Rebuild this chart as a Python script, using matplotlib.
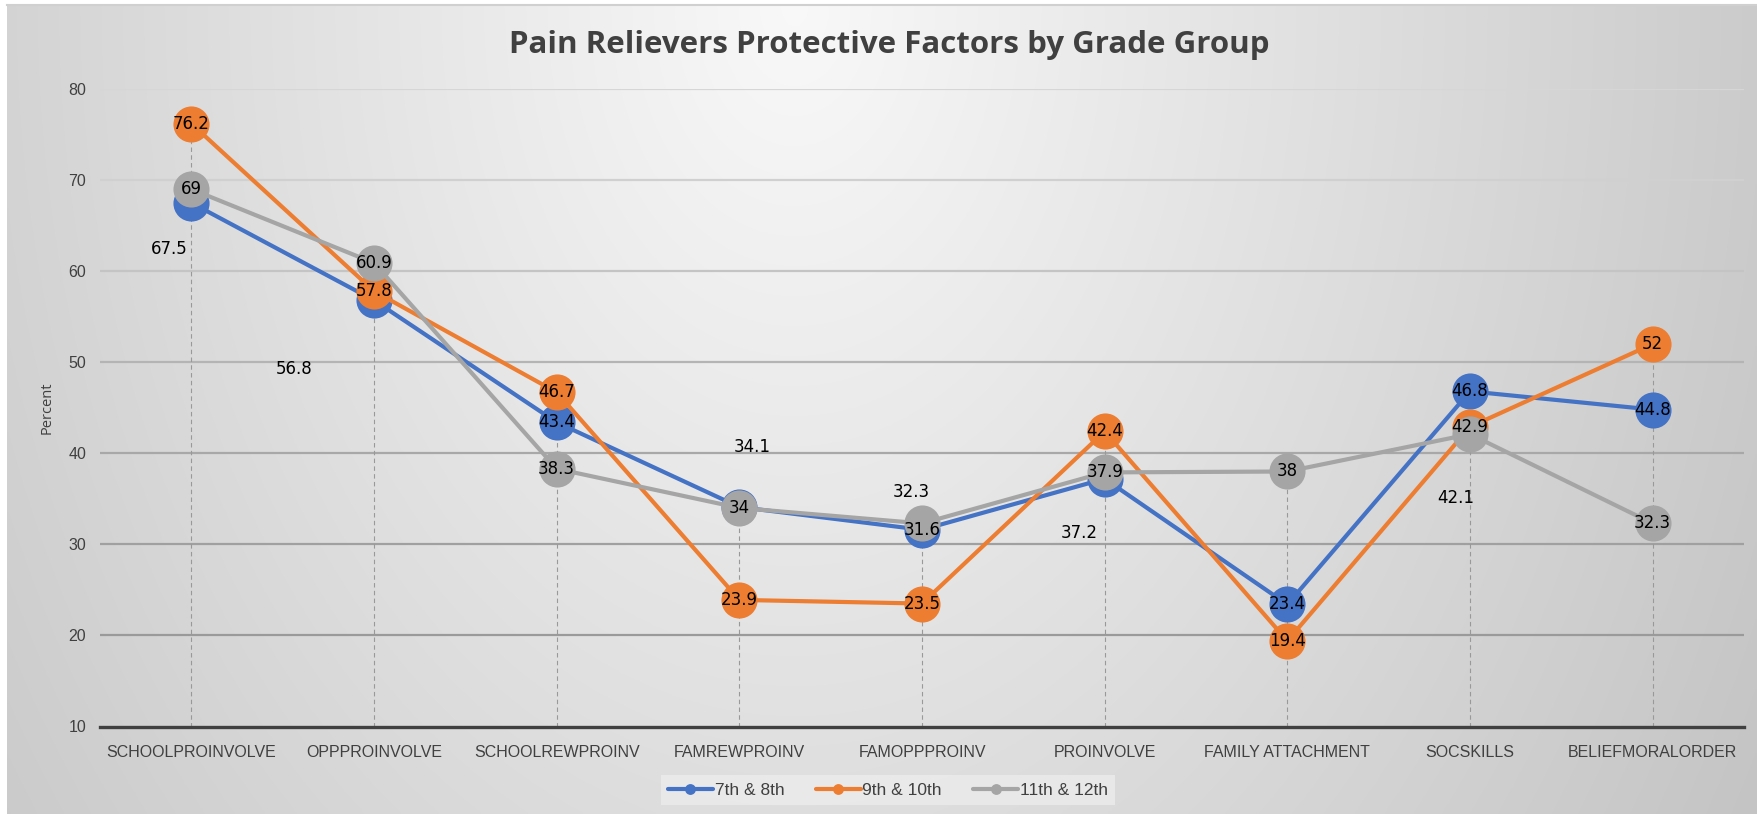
import numpy as np
import matplotlib
matplotlib.use('Agg')
import matplotlib.pyplot as plt
from matplotlib import font_manager

categories = ['SCHOOLPROINVOLVE', 'OPPPROINVOLVE', 'SCHOOLREWPROINV', 'FAMREWPROINV',
              'FAMOPPPROINV', 'PROINVOLVE', 'FAMILY ATTACHMENT', 'SOCSKILLS', 'BELIEFMORALORDER']
grade_7_8 = [67.5, 56.8, 43.4, 34.1, 31.6, 37.2, 23.4, 46.8, 44.8]
grade_9_10 = [76.2, 57.8, 46.7, 23.9, 23.5, 42.4, 19.4, 42.9, 52]
grade_11_12 = [69, 60.9, 38.3, 34, 32.3, 37.9, 38, 42.1, 32.3]
series_names = ['7th & 8th', '9th & 10th', '11th & 12th']
colors = ['#4472C4', '#ED7D31', '#A5A5A5']
y_ticks = [10, 20, 30, 40, 50, 60, 70, 80]

# labels that were dragged off their markers: (series, point) -> (x, y)
moved_labels = {(0, 0): (-0.12, 62.4), (0, 1): (0.56, 49.3), (0, 3): (3.07, 40.7),
                (2, 4): (3.94, 35.7), (0, 5): (4.86, 31.2), (2, 7): (6.92, 35.1)}

installed = {f.name for f in font_manager.fontManager.ttflist}
if 'Liberation Sans Narrow' in installed:
    axis_font, axis_size = 'Liberation Sans Narrow', 13
else:
    axis_font, axis_size = 'Liberation Sans', 11.5
title_font = 'Open Sans' if 'Open Sans' in installed else 'DejaVu Sans'

fig = plt.figure(figsize=(17.57, 8.14), dpi=100)
fig.patch.set_facecolor('white')

# soft grey gradient behind everything
bg = fig.add_axes([7 / 1757, 0, 1 - 7 / 1757, 1 - 6 / 814], zorder=-5)
gx, gy = np.meshgrid(np.linspace(0, 1, 600), np.linspace(0, 1, 300))
r = np.sqrt(((gx - 0.45) / 0.62) ** 2 + (gy / 1.9) ** 2)
shade = np.clip(0.975 - 0.2 * r, 0.76, 0.98)
bg.imshow(np.dstack([shade] * 3), aspect='auto', extent=[0, 1, 1, 0], interpolation='bilinear')
bg.set_axis_off()
fig.add_artist(plt.Line2D([7 / 1757, 1], [1 - 5 / 814] * 2, color='#d0d0d0', lw=1.5))

ax = fig.add_axes([100 / 1757, 1 - 726.5 / 814, 1644 / 1757, (726.5 - 89) / 814])
ax.set_facecolor('none')
x = np.arange(len(categories))
series = [grade_7_8, grade_9_10, grade_11_12]

# horizontal gridlines, lighter toward the top
grid_colors = ['#9a9a9a', '#a0a0a0', '#a8a8a8', '#b4b4b4', '#c4c4c4', '#d0d0d0', '#d6d6d6']
for level, c in zip(y_ticks[1:], grid_colors):
    ax.axhline(level, color=c, lw=1.6, zorder=0)

# drop lines from the highest point down to the axis
tops = np.max(series, axis=0)
ax.vlines(x, 10, tops, colors='#999999', linestyles=(0, (4, 3)), lw=0.8, zorder=1)

for i, (vals, name, c) in enumerate(zip(series, series_names, colors)):
    ax.plot(x, vals, color=c, lw=3, marker='o', markersize=26, markeredgewidth=0,
            solid_capstyle='round', zorder=3 + i, label=name)

for i, vals in enumerate(series):
    for j, v in enumerate(vals):
        tx, ty = moved_labels.get((i, j), (x[j], v))
        ax.text(tx, ty, f'{v:g}', ha='center', va='center', fontsize=12,
                family='DejaVu Sans', color='black', zorder=10)

ax.set_xlim(-0.5, len(categories) - 0.5)
ax.set_ylim(10, 80)
ax.set_yticks(y_ticks)
ax.set_xticks(x)
ax.set_xticklabels(categories, family=axis_font, fontsize=axis_size, color='#404040')
ax.set_yticklabels([str(t) for t in y_ticks], family=axis_font, fontsize=axis_size,
                   color='#404040')
ax.tick_params(length=0)
ax.tick_params(axis='y', pad=10)
ax.tick_params(axis='x', pad=13)
for s in ['top', 'right', 'left']:
    ax.spines[s].set_visible(False)
ax.spines['bottom'].set_color('#404040')
ax.spines['bottom'].set_linewidth(2.4)
ax.spines['bottom'].set_zorder(2)

fig.text(47 / 1757, 1 - 408 / 814, 'Percent', rotation=90, ha='center', va='center',
         fontsize=10.5, family=title_font, color='#404040')
fig.text(889 / 1757, 1 - 45 / 814, 'Pain Relievers Protective Factors by Grade Group',
         ha='center', va='center', fontsize=22.5, fontweight='bold', family=title_font,
         color='#404040')

leg = ax.legend(loc='center', bbox_to_anchor=(888 / 1757, 1 - 790 / 814),
                bbox_transform=fig.transFigure, ncol=3, frameon=True, fancybox=False,
                markerscale=0.3, handlelength=2.6, columnspacing=1.8, handletextpad=0.1,
                prop={'family': axis_font, 'size': axis_size + 1})
leg.get_frame().set_facecolor('#ececec')
leg.get_frame().set_edgecolor('none')
leg.get_frame().set_alpha(0.8)
for t in leg.get_texts():
    t.set_color('#404040')

fig.savefig('out.png', dpi=100)
